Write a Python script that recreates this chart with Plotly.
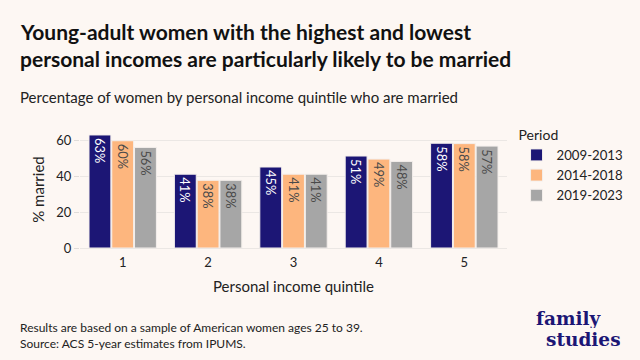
import plotly.graph_objects as go

quintiles = ["1", "2", "3", "4", "5"]
periods = ["2009-2013", "2014-2018", "2019-2023"]
v_2009_2013 = [62.8, 41.0, 45.0, 51.1, 58.2]
v_2014_2018 = [59.6, 37.6, 41.0, 49.4, 58.0]
v_2019_2023 = [55.9, 37.6, 41.0, 48.1, 56.6]
series = [v_2009_2013, v_2014_2018, v_2019_2023]
colors = ["#1c1675", "#fdb67e", "#a6a6a6"]
text_colors = ["#ffffff", "#4a4a4a", "#4a4a4a"]

BG = "#fdf7f3"
FONT = "Lato"

fig = go.Figure()
for name, vals, c, tc in zip(periods, series, colors, text_colors):
    fig.add_trace(go.Bar(
        x=quintiles, y=vals, name=name,
        marker=dict(color=c, line=dict(color="#f4efec", width=1)),
        text=[f"{round(v):d}%" for v in vals],
        textposition="inside", insidetextanchor="end", textangle=90,
        textfont=dict(family=FONT, size=13, color=tc),
        hoverinfo="skip",
    ))

fig.update_layout(
    width=640, height=360,
    paper_bgcolor=BG, plot_bgcolor=BG,
    margin=dict(l=80, r=132, t=131, b=112),
    barmode="group", bargap=0.2, bargroupgap=0.04,
    font=dict(family=FONT, color="#222222"),
    showlegend=True,
    legend=dict(
        title=dict(text="Period", font=dict(family=FONT, size=14, color="#222")),
        font=dict(family=FONT, size=13.2, color="#222"),
        x=1.02, xanchor="left", y=1.08, yanchor="top",
        bgcolor="rgba(0,0,0,0)", tracegroupgap=0, itemwidth=30,
    ),
    xaxis=dict(
        type="category", showgrid=False, ticks="", zeroline=False,
        ticklabelstandoff=5,
        tickfont=dict(family=FONT, size=13, color="#222"),
        title=dict(text="Personal income quintile", font=dict(family=FONT, size=15, color="#222"), standoff=12),
    ),
    yaxis=dict(
        range=[0, 65], tickvals=[0, 20, 40, 60],
        showgrid=True, gridcolor="#ebe7e4", gridwidth=1,
        zeroline=True, zerolinecolor="#ebe7e4", zerolinewidth=1,
        ticks="outside", ticklen=5, tickcolor="#e0dcd9",
        tickfont=dict(family=FONT, size=13, color="#222"),
        title=dict(text="% married", font=dict(family=FONT, size=15, color="#222"), standoff=8),
    ),
)

PW, PH, ML, MB = 428, 117, 80, 112

def px(x):
    return (x - ML) / PW

def py(y):
    return (360 - MB - y) / PH

ann = [
    dict(text="<b>Young-adult women with the highest and lowest</b>", x=18, y=32, size=21, color="#111"),
    dict(text="<b>personal incomes are particularly likely to be married</b>", x=18, y=58, size=21, color="#111"),
    dict(text="Percentage of women by personal income quintile who are married", x=18, y=97, size=15, color="#222"),
    dict(text="Results are based on a sample of American women ages 25 to 39.", x=18, y=327, size=12, color="#222"),
    dict(text="Source: ACS 5-year estimates from IPUMS.", x=18, y=343, size=12, color="#222"),
]
for a in ann:
    fig.add_annotation(
        text=a["text"], xref="paper", yref="paper",
        x=px(a["x"]), y=py(a["y"]),
        xanchor="left", yanchor="middle", showarrow=False,
        font=dict(family=FONT, size=a["size"], color=a["color"]),
    )

for txt, xc, yc in [("<b>family</b>", 570, 318), ("<b>studies</b>", 585, 339)]:
    fig.add_annotation(
        text=txt, xref="paper", yref="paper",
        x=px(xc), y=py(yc), height=20, valign="middle",
        xanchor="center", yanchor="middle", showarrow=False,
        font=dict(family="DejaVu Serif", size=18.5, color="#1c1675"),
    )

fig.write_html("out.html", config={"displayModeBar": False},
               post_script="document.body.style.margin='0';")
